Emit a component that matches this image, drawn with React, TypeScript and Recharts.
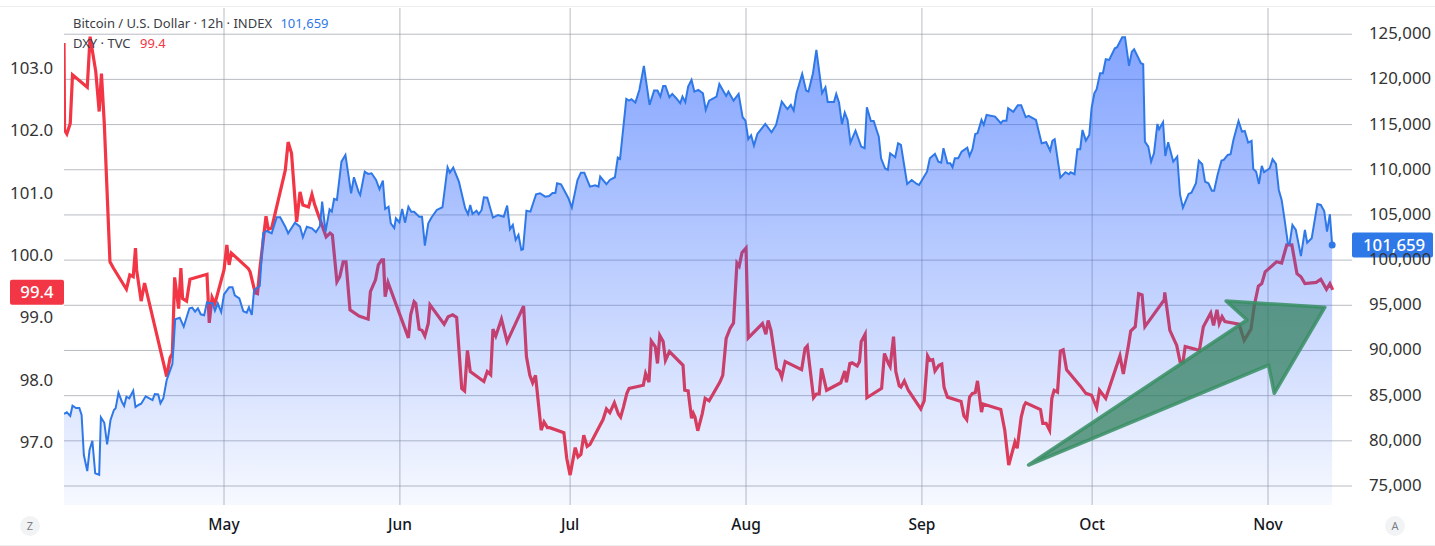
import { ComposedChart, Area, XAxis, YAxis, CartesianGrid, ReferenceDot, ReferenceArea } from 'recharts';

// x positions are days counted from May 1
const monthDays = [0, 31, 61, 92, 123, 153, 184];
const monthNames = ['May', 'Jun', 'Jul', 'Aug', 'Sep', 'Oct', 'Nov'];
const dxyTicks = [97, 98, 99, 100, 101, 102, 103];
const btcTicks = [75000, 80000, 85000, 90000, 95000, 100000, 105000, 110000, 115000, 120000, 125000];

const btcDays = [
  -28.2, -27.7, -27.1, -26.7, -26.1, -25.5, -25.1, -24.7, -24.1, -23.7,
  -23.2, -22.7, -22.0, -21.7, -21.1, -20.6, -20.0, -19.4, -19.1, -18.6,
  -18.0, -17.6, -17.2, -16.7, -16.0, -15.6, -15.0, -14.6, -13.8, -12.6,
  -12.2, -11.6, -11.2, -10.7, -10.1, -9.1, -8.6, -7.8, -7.1, -6.1,
  -5.6, -5.1, -4.6, -4.1, -3.5, -3.0, -2.5, -2.0, -1.6, -1.1,
  -0.5, 0, 0.9, 1.5, 1.9, 2.7, 3.4, 4.0, 4.4, 4.9,
  5.3, 6.3, 6.9, 7.5, 8.4, 9.3, 9.9, 10.8, 11.3, 12.5,
  13.4, 13.9, 14.6, 15.5, 16.2, 16.9, 17.3, 17.9, 18.6, 19.0,
  19.4, 19.9, 20.7, 21.4, 22.4, 22.9, 23.7, 24.0, 24.8, 25.4,
  26.0, 26.8, 27.4, 28.0, 28.4, 29.0, 29.4, 30.0, 30.3, 30.9,
  31.4, 31.9, 32.5, 33.0, 33.5, 34.4, 34.9, 35.4, 36.0, 36.6,
  37.5, 38.5, 39.4, 39.8, 40.4, 41.4, 42.5, 43.0, 43.4, 43.8,
  44.5, 44.9, 45.4, 45.8, 46.4, 47.4, 48.3, 49.3, 49.9, 50.4,
  50.9, 51.4, 51.9, 52.4, 52.7, 53.3, 54.0, 55.0, 55.7, 56.6,
  57.3, 57.9, 58.4, 58.7, 59.4, 60.7, 61.3, 62.3, 62.9, 63.5,
  64.5, 65.4, 66.0, 66.3, 67.4, 68.0, 68.9, 69.4, 69.8, 70.9,
  71.4, 71.8, 72.5, 73.2, 74.0, 75.0, 75.8, 76.4, 76.9, 77.4,
  77.8, 78.5, 79.0, 79.7, 80.4, 80.8, 81.3, 81.8, 82.4, 82.9,
  83.6, 84.4, 84.9, 85.5, 86.8, 87.3, 88.5, 88.9, 89.8, 90.7,
  91.4, 91.9, 92.4, 92.9, 93.4, 94.0, 95.4, 96.5, 97.3, 98.3,
  99.3, 99.9, 100.4, 100.9, 101.9, 102.6, 103.0, 103.8, 104.4, 104.9,
  105.4, 106.0, 106.4, 107.5, 107.9, 108.4, 108.9, 109.4, 109.9, 110.4,
  111.3, 112.3, 112.9, 113.3, 114.0, 114.5, 115.4, 115.8, 116.5, 117.0,
  117.4, 118.3, 118.8, 119.3, 120.4, 121.2, 122.1, 122.5, 123.9, 124.4,
  125.3, 125.9, 126.4, 126.8, 127.5, 128.0, 128.4, 128.8, 129.4, 130.0,
  131.0, 131.4, 131.9, 132.4, 132.8, 133.5, 133.9, 134.4, 135.9, 136.9,
  137.3, 137.9, 138.2, 139.1, 139.9, 140.5, 141.3, 141.8, 143.1, 144.1,
  144.9, 145.6, 146.0, 146.4, 147.4, 148.3, 148.9, 149.2, 149.9, 150.4,
  150.9, 151.3, 151.9, 152.5, 152.9, 153.4, 153.8, 154.4, 154.9, 155.4,
  156.0, 157.0, 157.4, 158.3, 158.8, 159.5, 160.0, 160.4, 161.6, 162.0,
  162.3, 162.9, 163.4, 163.9, 164.5, 164.8, 165.5, 165.9, 166.4, 167.3,
  168.0, 168.5, 169.0, 170.0, 170.5, 171.3, 171.8, 172.4, 172.9, 173.5,
  174.1, 174.5, 175.1, 175.8, 176.2, 176.9, 177.4, 177.9, 178.8, 179.4,
  179.9, 180.5, 181.1, 181.4, 181.9, 182.4, 182.9, 183.3, 184.3, 184.8,
  185.4, 185.9, 186.4, 186.8, 187.5, 187.8, 188.3, 188.9, 189.8, 190.5,
  190.9, 191.7, 192.7, 193.3, 193.9, 194.4, 194.9, 195.3,
];

const btcPrices = [
  82970, 83155, 82746, 83886, 83631, 83631, 82856, 78428, 76657, 78982,
  80012, 76403, 76248, 82602, 82004, 79613, 82303, 83410, 83598, 85325,
  84329, 83853, 84882, 84705, 85547, 83742, 83997, 84107, 84927, 84517,
  85181, 85148, 84152, 84705, 86731, 88502, 93450, 93628, 92631, 94668,
  94735, 94292, 94668, 94004, 93893, 95332, 95222, 95222, 94403, 95222,
  94259, 96218, 96993, 96993, 96107, 95775, 94336, 94181, 94779, 93926,
  96694, 97137, 102971, 103225, 102971, 104742, 104742, 103701, 102971, 104144,
  103701, 102528, 103701, 103524, 103081, 103779, 106469, 103148, 105627, 105362,
  106768, 106657, 110897, 111638, 107399, 109170, 107576, 107210, 109790, 109535,
  109613, 108871, 107841, 108794, 105661, 105915, 104078, 103557, 104631, 104188,
  105661, 104144, 105915, 105362, 105362, 104808, 104808, 101598, 104078, 104742,
  105550, 105849, 110277, 109679, 110233, 108683, 105738, 105074, 106103, 105107,
  105473, 105074, 105550, 106956, 106912, 104698, 104997, 104808, 106026, 103413,
  103889, 102229, 102782, 101122, 101199, 105473, 105362, 107288, 107399, 107022,
  107100, 107432, 107432, 108506, 108395, 106845, 105805, 108871, 109679, 109679,
  108129, 108284, 108129, 109236, 108395, 108871, 109170, 111340, 111196, 117838,
  117650, 117804, 117428, 118834, 121491, 117173, 118757, 118757, 118092, 119277,
  119277, 118026, 118391, 117915, 117362, 118092, 117472, 119199, 119941, 118646,
  118834, 118469, 116620, 117650, 118092, 119498, 118170, 118646, 117650, 118391,
  115812, 115436, 113376, 113819, 112668, 113963, 115070, 114151, 114959, 117539,
  116697, 117173, 116543, 118469, 120605, 118757, 118646, 120683, 123262, 120860,
  118469, 119133, 117506, 117506, 118391, 117428, 115037, 116321, 115513, 113000,
  114329, 112557, 112380, 116919, 115402, 115402, 113664, 111273, 110166, 109978,
  111827, 111384, 112934, 112745, 108428, 108871, 108428, 108317, 109790, 111273,
  111749, 110897, 110786, 112380, 110720, 110720, 110277, 111273, 111273, 112004,
  112447, 111528, 112269, 113963, 114041, 115513, 114959, 116066, 115878, 115148,
  115436, 115436, 116808, 116399, 117140, 117140, 115812, 115956, 115513, 112934,
  113044, 112115, 113188, 113376, 109126, 109723, 109502, 109723, 109502, 112270,
  112270, 114406, 113222, 113852, 116808, 118469, 118911, 120683, 120683, 122232,
  122155, 123450, 123561, 124668, 124668, 121491, 123074, 123339, 121790, 121679,
  113111, 112557, 110897, 111827, 115070, 114483, 115258, 111528, 113044, 110897,
  111450, 107210, 105805, 107321, 107465, 108506, 111008, 110609, 108683, 108506,
  107687, 107687, 109425, 111008, 111085, 111638, 111716, 113299, 115402, 114218,
  114295, 113000, 113188, 110089, 109790, 108428, 110421, 109723, 110166, 111162,
  110642, 107764, 106657, 104997, 101864, 101786, 103889, 103336, 100458, 103336,
  101930, 102417, 106214, 106103, 105439, 103148, 105074, 101659,
];

const dxyDays = [
  -28.2, -28.1, -27.7, -27.1, -26.7, -24.1, -23.6, -22.6, -22.0, -21.6,
  -21.1, -20.1, -19.5, -17.2, -16.6, -16.0, -15.6, -15.4, -14.6, -14.0,
  -10.1, -9.5, -9.1, -8.7, -8.0, -7.6, -7.3, -6.6, -6.0, -3.0,
  -2.6, -2.1, -1.6, 0, 0.5, 0.9, 1.3, 4.3, 4.6, 5.5,
  5.9, 6.3, 7.4, 7.8, 8.4, 10.8, 11.3, 11.9, 12.8, 13.4,
  13.9, 14.9, 15.5, 16.0, 18.0, 18.7, 19.1, 19.9, 20.4, 21.0,
  21.5, 22.2, 23.8, 25.4, 25.8, 26.7, 27.2, 27.8, 28.1, 28.4,
  28.9, 32.5, 32.9, 33.5, 33.8, 34.4, 34.9, 35.4, 36.0, 36.3,
  38.8, 39.5, 40.3, 41.0, 41.9, 42.4, 42.9, 43.4, 45.8, 46.4,
  47.0, 47.4, 47.9, 48.9, 49.9, 52.8, 53.3, 53.9, 54.4, 54.9,
  55.9, 56.4, 57.0, 57.4, 59.9, 60.4, 61.0, 61.9, 62.4, 62.9,
  63.4, 64.0, 64.5, 66.8, 67.4, 68.0, 68.8, 69.5, 69.9, 70.4,
  71.0, 71.4, 73.9, 74.3, 74.9, 75.3, 76.0, 76.4, 76.8, 77.4,
  77.8, 78.5, 80.9, 81.2, 81.8, 82.4, 82.7, 83.0, 83.5, 84.3,
  84.8, 85.5, 87.4, 87.9, 88.5, 89.2, 89.8, 90.4, 90.8, 91.3,
  92.0, 92.4, 94.9, 95.5, 95.9, 96.4, 97.4, 97.9, 98.3, 98.9,
  101.8, 102.4, 102.8, 103.9, 104.4, 104.9, 105.3, 106.2, 108.7, 109.4,
  109.7, 110.3, 110.7, 111.6, 112.0, 112.3, 113.0, 113.3, 115.9, 116.4,
  117.1, 117.4, 118.0, 118.4, 119.0, 119.3, 119.9, 120.6, 122.8, 123.4,
  124.0, 124.4, 124.9, 125.3, 126.0, 126.5, 126.9, 127.5, 129.9, 130.4,
  130.9, 131.4, 131.9, 132.4, 132.8, 133.5, 133.8, 136.9, 137.6, 138.3,
  139.4, 139.8, 140.5, 141.0, 141.3, 143.9, 144.3, 144.9, 145.5, 145.9,
  146.3, 146.9, 147.4, 147.9, 148.5, 150.9, 151.9, 152.9, 153.8, 154.3,
  155.4, 157.9, 158.5, 159.4, 159.8, 160.6, 161.2, 161.8, 162.3, 165.7,
  165.8, 166.7, 167.6, 167.9, 168.5, 169.0, 169.4, 171.9, 172.6, 173.9,
  174.4, 175.0, 175.4, 175.9, 176.4, 178.9, 179.8, 181.0, 181.6, 182.3,
  182.9, 183.5, 185.5, 186.4, 187.3, 188.2, 189.1, 189.8, 190.5, 192.5,
  193.3, 194.3, 194.9, 195.4,
];

const dxyValues = [
  103.4, 102.0, 101.94, 102.11, 102.89, 102.69, 103.5, 102.94, 102.3, 102.91,
  102.11, 99.89, 99.79, 99.45, 99.68, 99.65, 100.11, 99.76, 99.26, 99.55,
  98.05, 98.35, 98.42, 99.64, 99.14, 99.79, 99.3, 99.26, 99.61, 99.69,
  98.91, 99.32, 99.22, 99.76, 100.16, 99.84, 100.03, 99.78, 99.73, 99.39,
  99.38, 99.76, 100.62, 100.41, 100.43, 101.36, 101.81, 101.63, 100.53, 101.01,
  100.8, 100.77, 100.97, 100.8, 100.29, 100.35, 100.32, 99.57, 99.65, 99.89,
  99.89, 99.12, 99.02, 98.97, 99.41, 99.6, 99.84, 99.92, 99.92, 99.33,
  99.56, 98.67, 99.04, 99.25, 99.22, 98.81, 98.79, 98.7, 98.9, 99.2,
  98.89, 99.01, 99.04, 99.0, 97.86, 97.82, 98.47, 98.13, 97.97, 98.13,
  98.08, 98.81, 98.7, 98.97, 98.61, 99.18, 98.37, 98.07, 97.95, 98.07,
  97.19, 97.32, 97.23, 97.23, 97.15, 96.74, 96.47, 96.91, 96.76, 96.8,
  97.11, 96.93, 96.96, 97.36, 97.53, 97.47, 97.63, 97.45, 97.4, 97.56,
  97.78, 97.86, 97.91, 98.1, 97.96, 98.62, 98.53, 98.26, 98.71, 98.61,
  98.31, 98.45, 98.23, 97.83, 97.82, 97.38, 97.46, 97.4, 97.18, 97.46,
  97.7, 97.66, 97.96, 98.07, 98.66, 98.82, 98.91, 99.87, 99.82, 100.04,
  100.11, 98.67, 98.9, 98.73, 98.95, 98.79, 98.18, 98.14, 98.04, 98.29,
  98.16, 98.5, 98.54, 97.71, 97.77, 97.77, 98.18, 97.83, 97.95, 98.14,
  97.96, 98.26, 98.27, 98.22, 98.29, 98.61, 98.73, 97.71, 97.86, 98.42,
  98.26, 98.21, 98.69, 98.13, 97.9, 97.88, 97.98, 97.83, 97.53, 97.66,
  98.38, 98.31, 98.32, 98.14, 98.23, 98.25, 97.88, 97.72, 97.65, 97.42,
  97.36, 97.72, 97.78, 97.79, 97.98, 97.48, 97.61, 97.52, 97.19, 96.63,
  97.0, 96.9, 97.4, 97.58, 97.63, 97.52, 97.3, 97.3, 97.19, 97.7,
  97.83, 97.8, 98.46, 98.48, 98.16, 97.9, 97.78, 97.75, 97.55, 97.83,
  97.7, 98.38, 98.09, 98.55, 98.78, 98.85, 99.38, 99.36, 98.85, 99.28,
  99.4, 98.79, 98.61, 98.55, 98.29, 98.28, 98.53, 98.47, 98.85, 99.07,
  98.87, 99.12, 98.9, 99.01, 98.93, 98.89, 98.63, 98.81, 99.2, 99.5,
  99.54, 99.73, 99.89, 99.87, 100.16, 100.16, 99.7, 99.65, 99.54, 99.56,
  99.61, 99.45, 99.54, 99.44,
];

// drawn arrow, in the same day / BTC price units
const arrowDays = [141.8, 184.1, 185.1, 194.0, 176.6, 180.3];
const arrowPrices = [77320, 88391, 85259, 94779, 95476, 93373];

const btcLast = 101659;
const dxyLast = 99.4;

const xDomain = [-28.2, 198.8];
const dxyDomain = [95.99, 103.96];
const btcDomain = [72900, 127900];

const btcData = btcDays.map((day, i) => ({ day, price: btcPrices[i] }));
const dxyData = dxyDays.map((day, i) => ({ day, dxy: dxyValues[i] }));

const FONT = '"Noto Sans", "Open Sans", sans-serif';
const BLUE = '#2f78e8';
const RED = '#f23645';

const ArrowShape = ({ x, y, width, height }: any) => {
  const minDay = Math.min(...arrowDays);
  const maxDay = Math.max(...arrowDays);
  const minPrice = Math.min(...arrowPrices);
  const maxPrice = Math.max(...arrowPrices);
  const points = arrowDays
    .map((d, i) => {
      const px = x + ((d - minDay) / (maxDay - minDay)) * width;
      const py = y + ((maxPrice - arrowPrices[i]) / (maxPrice - minPrice)) * height;
      return `${px},${py}`;
    })
    .join(' ');
  return (
    <polygon
      points={points}
      fill="rgba(46,125,90,0.72)"
      stroke="rgba(56,142,100,0.85)"
      strokeWidth={3.5}
      strokeLinejoin="round"
    />
  );
};

const PriceTag = ({ cx, cy, side, text, color }: any) => {
  const w = side === 'left' ? 54 : 81;
  const left = side === 'left' ? cx - w : cx;
  return (
    <g>
      <rect x={left} y={cy - 12.5} width={w} height={25} rx={2} fill={color} />
      <text
        x={side === 'left' ? left + w / 2 : left + 11}
        y={cy + 6}
        textAnchor={side === 'left' ? 'middle' : 'start'}
        fontSize={16.8}
        fontWeight={500}
        fontFamily={FONT}
        fill="#fff"
      >
        {text}
      </text>
    </g>
  );
};

const Corner = ({ left, label }: { left: number; label: string }) => (
  <div
    style={{
      position: 'absolute',
      left,
      top: 516,
      width: 20,
      height: 20,
      borderRadius: 10,
      background: '#f2f3f5',
      color: '#7b7f88',
      fontFamily: FONT,
      fontSize: 11,
      lineHeight: '20px',
      textAlign: 'center',
    }}
  >
    {label}
  </div>
);

const legendStyle = {
  position: 'absolute',
  left: 73,
  fontFamily: FONT,
  fontSize: 13,
  lineHeight: '16px',
  color: '#3a3d45',
  whiteSpace: 'nowrap',
} as const;

export default function App() {
  return (
    <div style={{ position: 'absolute', left: 0, top: 0, width: 1435, height: 546, background: '#fff', overflow: 'hidden' }}>
      <div style={{ position: 'absolute', left: 0, top: 6, width: 1435, height: 1, background: '#eeeeee' }} />
      <div style={{ position: 'absolute', left: 0, top: 545, width: 1435, height: 1, background: '#eeeeee' }} />
      <ComposedChart width={1435} height={546} margin={{ top: 8, right: 0, bottom: 0, left: 0 }}>
        <defs>
          <linearGradient id="btcFill" x1="0" y1="0" x2="0" y2="1">
            <stop offset="0%" stopColor="#2962ff" stopOpacity={0.58} />
            <stop offset="100%" stopColor="#2962ff" stopOpacity={0.04} />
          </linearGradient>
        </defs>
        <CartesianGrid yAxisId="btc" stroke="#8a8f99" strokeOpacity={0.6} syncWithTicks />
        <XAxis
          dataKey="day"
          type="number"
          scale="linear"
          domain={xDomain}
          ticks={monthDays}
          interval={0}
          allowDataOverflow
          height={41}
          axisLine={false}
          tickLine={false}
          tickMargin={8}
          tick={{ fontSize: 15.5, fill: '#131722', fontFamily: FONT, fontWeight: 500 }}
          tickFormatter={(v: number) => monthNames[monthDays.indexOf(v)]}
        />
        <YAxis
          yAxisId="dxy"
          orientation="left"
          width={64}
          domain={dxyDomain}
          ticks={dxyTicks}
          interval={0}
          allowDataOverflow
          axisLine={false}
          tickLine={false}
          tickMargin={5}
          tick={{ fontSize: 16.8, fill: '#333', fontFamily: FONT }}
          tickFormatter={(v: number) => v.toFixed(1)}
        />
        <YAxis
          yAxisId="btc"
          orientation="right"
          width={83}
          domain={btcDomain}
          ticks={btcTicks}
          interval={0}
          allowDataOverflow
          axisLine={false}
          tickLine={false}
          tickMargin={11}
          tick={{ fontSize: 16.8, fill: '#333', fontFamily: FONT, dy: -1 }}
          tickFormatter={(v: number) => v.toLocaleString('en-US')}
        />
        {/* DXY goes first so the translucent BTC fill tints it, as in the original */}
        <Area
          yAxisId="dxy"
          data={dxyData}
          dataKey="dxy"
          type="linear"
          stroke={RED}
          strokeWidth={3.2}
          fill="none"
          fillOpacity={0}
          dot={false}
          activeDot={false}
          isAnimationActive={false}
        />
        <Area
          yAxisId="btc"
          data={btcData}
          dataKey="price"
          type="linear"
          stroke={BLUE}
          strokeWidth={2}
          fill="url(#btcFill)"
          fillOpacity={1}
          dot={false}
          activeDot={false}
          isAnimationActive={false}
        />
        <ReferenceArea
          yAxisId="btc"
          x1={Math.min(...arrowDays)}
          x2={Math.max(...arrowDays)}
          y1={Math.min(...arrowPrices)}
          y2={Math.max(...arrowPrices)}
          shape={<ArrowShape />}
        />
        <ReferenceDot yAxisId="btc" x={btcDays[btcDays.length - 1]} y={btcLast} r={3.5} fill={BLUE} stroke="none" />
        <ReferenceDot
          yAxisId="dxy"
          x={xDomain[0]}
          y={dxyLast}
          shape={(p: any) => <PriceTag {...p} side="left" text={dxyLast.toFixed(1)} color={RED} />}
        />
        <ReferenceDot
          yAxisId="btc"
          x={xDomain[1]}
          y={btcLast}
          shape={(p: any) => <PriceTag {...p} side="right" text={btcLast.toLocaleString('en-US')} color={BLUE} />}
        />
      </ComposedChart>
      <div style={{ ...legendStyle, top: 15 }}>
        Bitcoin / U.S. Dollar · 12h · INDEX <span style={{ color: BLUE, marginLeft: 5 }}>{btcLast.toLocaleString('en-US')}</span>
      </div>
      <div style={{ ...legendStyle, top: 35 }}>
        DXY · TVC <span style={{ color: RED, marginLeft: 6 }}>{dxyLast.toFixed(1)}</span>
      </div>
      <Corner left={20} label="Z" />
      <Corner left={1385} label="A" />
    </div>
  );
}
